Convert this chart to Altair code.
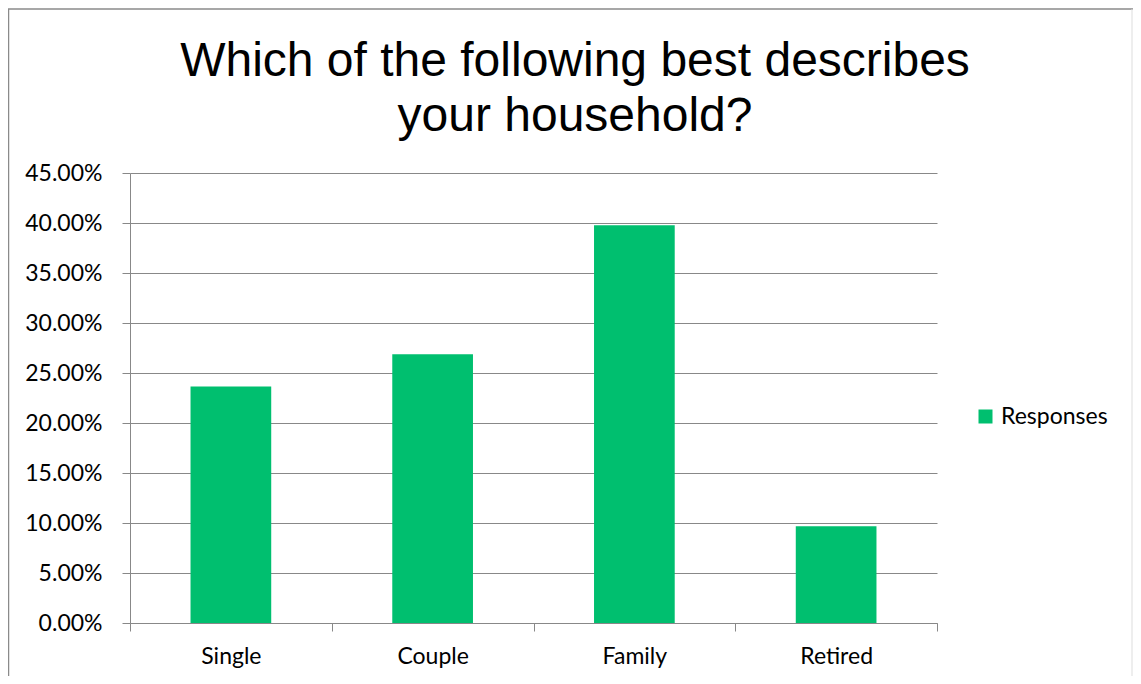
import altair as alt
import pandas as pd

categories = ["Single", "Couple", "Family", "Retired"]
values = [0.2366, 0.2688, 0.3978, 0.0968]
series = ["Responses", "Responses", "Responses", "Responses"]
y_ticks = [0.0, 0.05, 0.10, 0.15, 0.20, 0.25, 0.30, 0.35, 0.40, 0.45]
title_lines = ["Which of the following best describes", "your household?"]

df = pd.DataFrame({"category": categories, "value": values, "series": series})

W, H = 807, 450
PAD_L, PAD_T, PAD_R, PAD_B = 122, 165, 196, 53
GRID = "#888888"
LABEL_FONT = "Lato"

base = alt.Chart(df)

bars = base.mark_bar(width=alt.RelativeBandSize(0.4), color="#00BF6F").encode(
    x=alt.X(
        "category:N",
        sort=categories,
        scale=alt.Scale(paddingInner=0, paddingOuter=0),
        axis=alt.Axis(
            title=None,
            labelAngle=0,
            tickBand="extent",
            tickSize=8,
            tickColor=GRID,
            domainColor=GRID,
            labelFont=LABEL_FONT,
            labelFontSize=23,
            labelColor="black",
            labelPadding=14,
            grid=False,
        ),
    ),
    y=alt.Y(
        "value:Q",
        scale=alt.Scale(domain=[0, 0.45], nice=False),
        axis=alt.Axis(
            title=None,
            values=y_ticks,
            format=".2%",
            tickSize=8,
            tickColor=GRID,
            domainColor=GRID,
            gridColor=GRID,
            gridWidth=1,
            labelFont=LABEL_FONT,
            labelFontSize=23,
            labelColor="black",
            labelPadding=20,
        ),
    ),
    color=alt.Color(
        "series:N",
        scale=alt.Scale(range=["#00BF6F"]),
        legend=alt.Legend(
            title=None,
            orient="none",
            legendX=844,
            legendY=232,
            symbolType="square",
            symbolSize=196,
            symbolStrokeWidth=0,
            labelFont=LABEL_FONT,
            labelFontSize=23,
            labelColor="black",
            labelOffset=4,
            padding=0,
        ),
    ),
)

single = alt.Data(values=[{"k": 1}])

title_mark = alt.Chart(single).mark_text(
    text=title_lines,
    font="Liberation Sans",
    fontSize=48,
    color="black",
    align="center",
    baseline="alphabetic",
    lineHeight=55,
).encode(x=alt.value(445), y=alt.value(-97))

frame_left = alt.Chart(single).mark_rule(color="#8a8a8a", strokeWidth=1.5).encode(
    x=alt.value(-PAD_L + 0.5), y=alt.value(-PAD_T + 1), y2=alt.value(H + PAD_B)
)
frame_top = alt.Chart(single).mark_rule(color="#8a8a8a", strokeWidth=1.5).encode(
    x=alt.value(-PAD_L), x2=alt.value(W + PAD_R), y=alt.value(-PAD_T + 1)
)
frame_right = alt.Chart(single).mark_rule(color="#dddddd", strokeWidth=1).encode(
    x=alt.value(W + PAD_R - 1), y=alt.value(-PAD_T + 1), y2=alt.value(H + PAD_B)
)

chart = alt.layer(bars, title_mark, frame_left, frame_top, frame_right).properties(
    width=W,
    height=H,
    autosize=alt.AutoSizeParams(type="none"),
    padding={"left": PAD_L, "top": PAD_T, "right": PAD_R, "bottom": PAD_B},
    background="white",
).configure_view(stroke=None)

chart.save("out.html", embed_options={"renderer": "svg", "actions": False})
